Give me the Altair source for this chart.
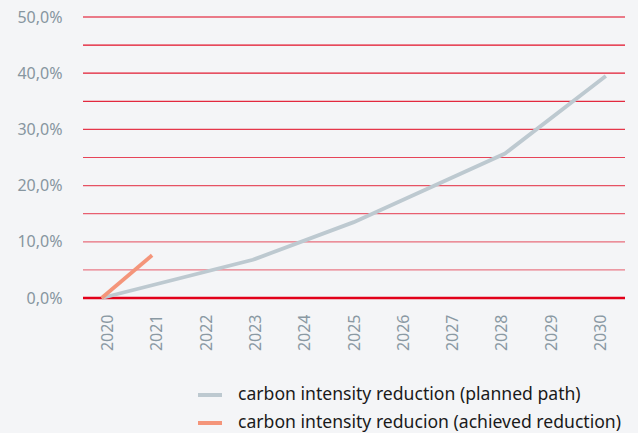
import altair as alt
import pandas as pd

# ---- data ----
years = list(range(2020, 2031))
planned_years = [2020, 2023, 2025, 2028, 2030]
planned_vals = [0.0, 6.8, 13.5, 25.7, 39.5]
achieved_years = [2020, 2021]
achieved_vals = [0.0, 7.6]
grid_vals = [5, 10, 15, 20, 25, 30, 35, 40, 45, 50]
y_ticks = [0, 10, 20, 30, 40, 50]
series_names = [
    "carbon intensity reduction (planned path)",
    "carbon intensity reducion (achieved reduction)",
]

line_df = pd.DataFrame(
    {"year": planned_years, "value": planned_vals, "series": series_names[0]}
)
line_df = pd.concat(
    [
        line_df,
        pd.DataFrame(
            {"year": achieved_years, "value": achieved_vals, "series": series_names[1]}
        ),
    ],
    ignore_index=True,
)
grid_df = pd.DataFrame({"v": grid_vals})
zero_df = pd.DataFrame({"v": [0]})
years_df = pd.DataFrame({"year": years})

FONT = "Noto Sans"
yscale = alt.Scale(domain=[0, 50], nice=False, zero=True)
y_axis = alt.Axis(
    values=y_ticks,
    labelExpr="replace(format(datum.value, '.1f'), '.', ',') + '%'",
    domain=False,
    ticks=False,
    grid=False,
    labelFont=FONT,
    labelFontSize=16,
    labelColor="#8796a0",
    labelPadding=21,
)

grid = (
    alt.Chart(grid_df)
    .mark_rule(strokeWidth=1.2, color="#e0001a")
    .encode(
        y=alt.Y("v:Q", scale=yscale, title=None, axis=y_axis),
        opacity=alt.Opacity(
            "v:Q", scale=alt.Scale(domain=[5, 50], range=[0.5, 1.0]), legend=None
        ),
    )
)

zero = (
    alt.Chart(zero_df)
    .mark_rule(strokeWidth=2.5, color="#e2001a")
    .encode(y=alt.Y("v:Q", scale=yscale, title=None, axis=y_axis))
)

lines = (
    alt.Chart(line_df)
    .mark_line(strokeWidth=3.8)
    .encode(
        x=alt.X(
            "year:Q", scale=alt.Scale(domain=[2019.63, 2030.38], nice=False), axis=None
        ),
        y=alt.Y("value:Q", scale=yscale, title=None, axis=y_axis),
        color=alt.Color(
            "series:N",
            scale=alt.Scale(domain=series_names, range=["#bdc9d0", "#f4957a"]),
            legend=alt.Legend(
                title=None,
                orient="none",
                legendX=113,
                legendY=364,
                symbolType="stroke",
                symbolSize=576,
                symbolStrokeWidth=4,
                labelFont=FONT,
                labelFontSize=17.6,
                labelColor="#1a1a1a",
                labelOffset=14,
                labelLimit=0,
                rowPadding=5,
                padding=0,
            ),
        ),
    )
)

xlabels = (
    alt.Chart(years_df)
    .mark_point(opacity=0)
    .encode(
        x=alt.X(
            "year:O",
            title=None,
            axis=alt.Axis(
                orient="bottom",
                labelAngle=270,
                domain=False,
                ticks=False,
                labelFont=FONT,
                labelFontSize=16,
                labelColor="#8a99a3",
                labelPadding=16,
            ),
        ),
        y=alt.value(0),
    )
)

chart = (
    alt.layer(grid, zero, lines, xlabels)
    .resolve_scale(x="independent")
    .properties(
        width=542,
        height=281,
        padding={"left": 83, "top": 17, "right": 13, "bottom": 135},
        autosize=alt.AutoSizeParams(type="none"),
        background="#f4f5f7",
    )
    .configure_view(stroke=None)
)

chart.save("out.html", embed_options={"renderer": "svg", "actions": False})
